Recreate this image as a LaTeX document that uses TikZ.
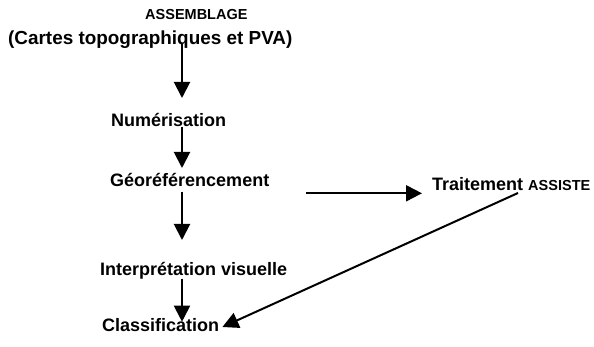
\documentclass[tikz,border=0pt]{standalone}
\usepackage{fontspec}
\setmainfont{Liberation Sans}
\usepackage{tikz}
\usetikzlibrary{calc, positioning, arrows.meta}
\newcommand{\grand}{\fontsize{18}{20}\selectfont\bfseries}
\newcommand{\petit}{\fontsize{14.5}{16}\selectfont\bfseries}

\begin{document}
\begin{tikzpicture}[x=1pt, y=-1pt,
        etape/.style={inner sep=0pt, anchor=base west, font=\grand},
        fleche/.style={line width=2pt, -{Triangle[length=16pt, width=16pt]}}]
            \useasboundingbox (0,0) rectangle (594,347);
            \coordinate (axe) at (182,0);

            \node[etape, font=\petit] (assemb) at (145,19.3) {ASSEMBLAGE};
            \node[etape, font=\fontsize{18.9}{21}\selectfont\bfseries] (cartes) at (8,44.3) {(Cartes topographiques et PVA)};
            \node[etape] (numer) at (111,126.7) {Numérisation};
            \node[etape] (georef) at (110,187) {Géoréférencement};
            \node[etape] (interp) at (100,275.7) {Interprétation visuelle};
            \node[etape] (classif) at (102,331.7) {Classification};
            \node[etape] (trait) at (432,190.7) {Traitement {\petit ASSISTE}};

            \draw[fleche] (cartes.base -| axe) -- ([yshift=28.7pt]numer.base -| axe);
            \draw[fleche] (numer.base -| axe) -- ([yshift=19pt]georef.base -| axe);
            \draw[fleche] ([yshift=-5pt]georef.base -| axe) -- ([yshift=35.7pt]interp.base -| axe);
            \draw[fleche] ([yshift=-3pt]interp.base -| axe) -- ([yshift=10pt]classif.base -| axe);

            \draw[fleche] ([xshift=37pt, yshift=-6.3pt]georef.base east) -- ([xshift=-10pt, yshift=-2.6pt]trait.base west);
            \draw[fleche] ([xshift=86pt, yshift=-2.3pt]trait.base west) -- ([xshift=3pt, yshift=4.7pt]classif.base east);
        \end{tikzpicture}
\end{document}
